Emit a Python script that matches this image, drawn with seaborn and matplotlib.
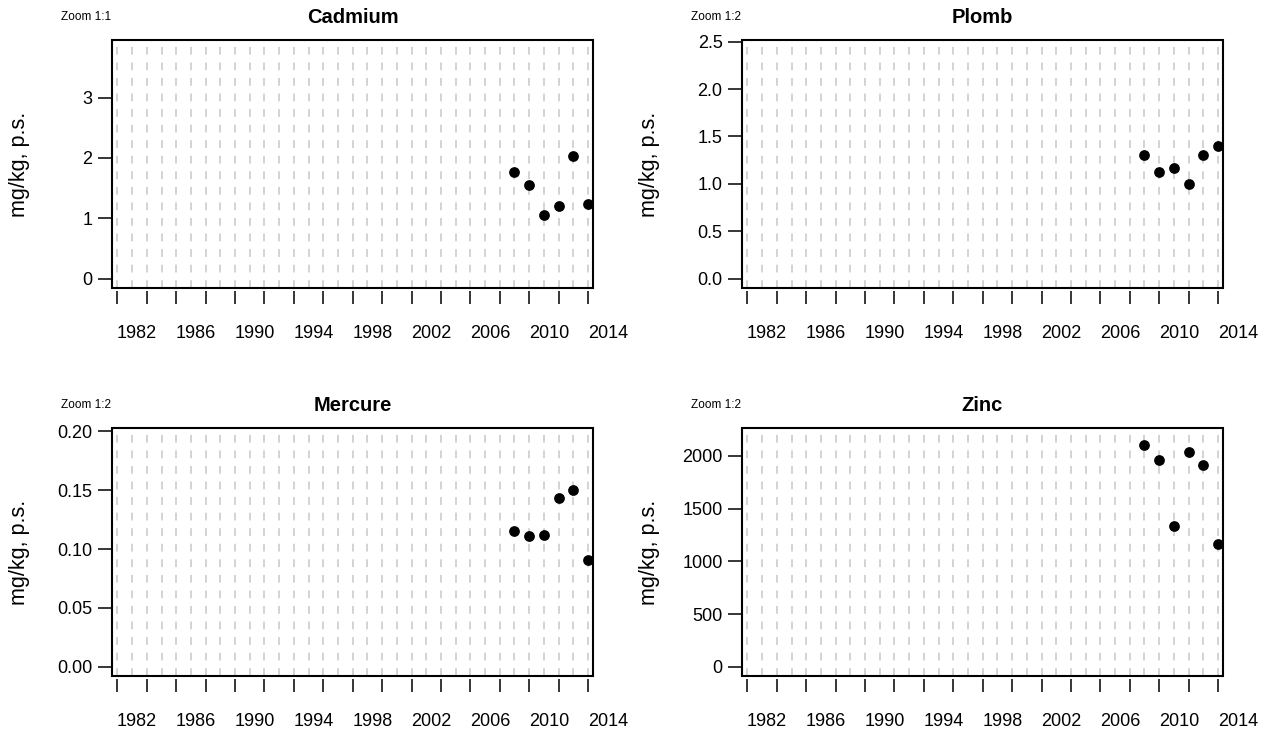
import matplotlib
import matplotlib.pyplot as plt
import seaborn as sns
from matplotlib.patches import Rectangle
from matplotlib.transforms import blended_transform_factory, offset_copy

matplotlib.use("Agg")

# data
years = [2008, 2009, 2010, 2011, 2012, 2013]
cadmium = [1.76, 1.55, 1.06, 1.20, 2.03, 1.23]
plomb = [1.30, 1.13, 1.17, 1.00, 1.30, 1.40]
mercure = [0.115, 0.111, 0.112, 0.143, 0.150, 0.091]
zinc = [2105, 1962, 1336, 2035, 1914, 1165]

grid_years = list(range(1981, 2014))
tick_years = list(range(1981, 2014, 2))
label_years = list(range(1982, 2015, 4))

titles = ["Cadmium", "Plomb", "Mercure", "Zinc"]
zoom_labels = ["Zoom 1:1", "Zoom 1:2", "Zoom 1:2", "Zoom 1:2"]
y_ticks = [
    [0, 1, 2, 3],
    [0.0, 0.5, 1.0, 1.5, 2.0, 2.5],
    [0.00, 0.05, 0.10, 0.15, 0.20],
    [0, 500, 1000, 1500, 2000],
]
y_ticklabels = [
    ["0", "1", "2", "3"],
    ["0.0", "0.5", "1.0", "1.5", "2.0", "2.5"],
    ["0.00", "0.05", "0.10", "0.15", "0.20"],
    ["0", "500", "1000", "1500", "2000"],
]
y_tops = [3.8, 2.42, 0.195, 2176]
series = [cadmium, plomb, mercure, zinc]

sns.set_theme(style="white")
plt.rcParams["font.family"] = ["Liberation Sans", "DejaVu Sans"]
plt.rcParams["text.color"] = "black"
plt.rcParams["axes.labelcolor"] = "black"
plt.rcParams["xtick.color"] = "black"
plt.rcParams["ytick.color"] = "black"

W, H = 1276, 738
fig = plt.figure(figsize=(W / 100, H / 100), dpi=100)

# panel boxes in pixels: left, top, right, bottom
boxes = [
    (112, 40, 593, 288),
    (742, 40, 1223, 288),
    (112, 428, 593, 676),
    (742, 428, 1223, 676),
]

for i, (l, t, r, b) in enumerate(boxes):
    ax = fig.add_axes([l / W, 1 - b / H, (r - l) / W, (b - t) / H])
    sns.scatterplot(
        x=years, y=series[i], ax=ax, color="black", s=60,
        linewidth=0, marker="o", zorder=3, clip_on=False,
    )
    ax.set_xlim(1980.63, 2013.34)
    top = y_tops[i]
    ax.set_ylim(-0.04 * top, 1.04 * top)

    ax.set_xticks(tick_years)
    ax.set_xticklabels([])
    ax.set_xticks(grid_years, minor=True)
    ax.tick_params(axis="x", which="major", direction="out", length=9,
                   width=1.1, color="black", bottom=True)
    ax.tick_params(axis="x", which="minor", length=0)
    ax.grid(axis="x", which="both", linestyle=(0, (4, 4)),
            color="#D3D3D3", linewidth=1.4)
    ax.grid(axis="y", visible=False)
    ax.set_axisbelow(True)

    ax.set_yticks(y_ticks[i])
    ax.set_yticklabels(y_ticklabels[i], fontsize=13)
    ax.tick_params(axis="y", direction="out", length=10, width=1.1,
                   color="black", left=True, pad=4)

    for side in ["top", "right", "left", "bottom"]:
        ax.spines[side].set_visible(False)
    ax.spines["bottom"].set_position(("outward", 2.5))
    ax.add_patch(Rectangle((0, 0), 1, 1, transform=ax.transAxes, fill=False,
                           edgecolor="black", linewidth=1.5, clip_on=False,
                           zorder=5))

    # year labels sit between the ticks, last one beyond the box
    trans = offset_copy(blended_transform_factory(ax.transData, ax.transAxes),
                        fig=fig, x=5, y=-45, units="dots")
    for yr in label_years:
        ax.text(yr, 0, str(yr), transform=trans, ha="center", va="center",
                fontsize=13, clip_on=False)

    ax.set_xlabel("")
    ax.set_ylabel("mg/kg, p.s.", fontsize=15.5, va="center")
    ax.yaxis.set_label_coords(-92 / (r - l), 0.5)
    ax.set_title(titles[i], fontsize=14.5, fontweight="bold", pad=12)
    ax.text(0, 1, zoom_labels[i], transform=offset_copy(
        ax.transAxes, fig=fig, x=-1, y=23, units="dots"),
        ha="right", va="center", fontsize=8.5)

fig.savefig("out.png", dpi=100)
